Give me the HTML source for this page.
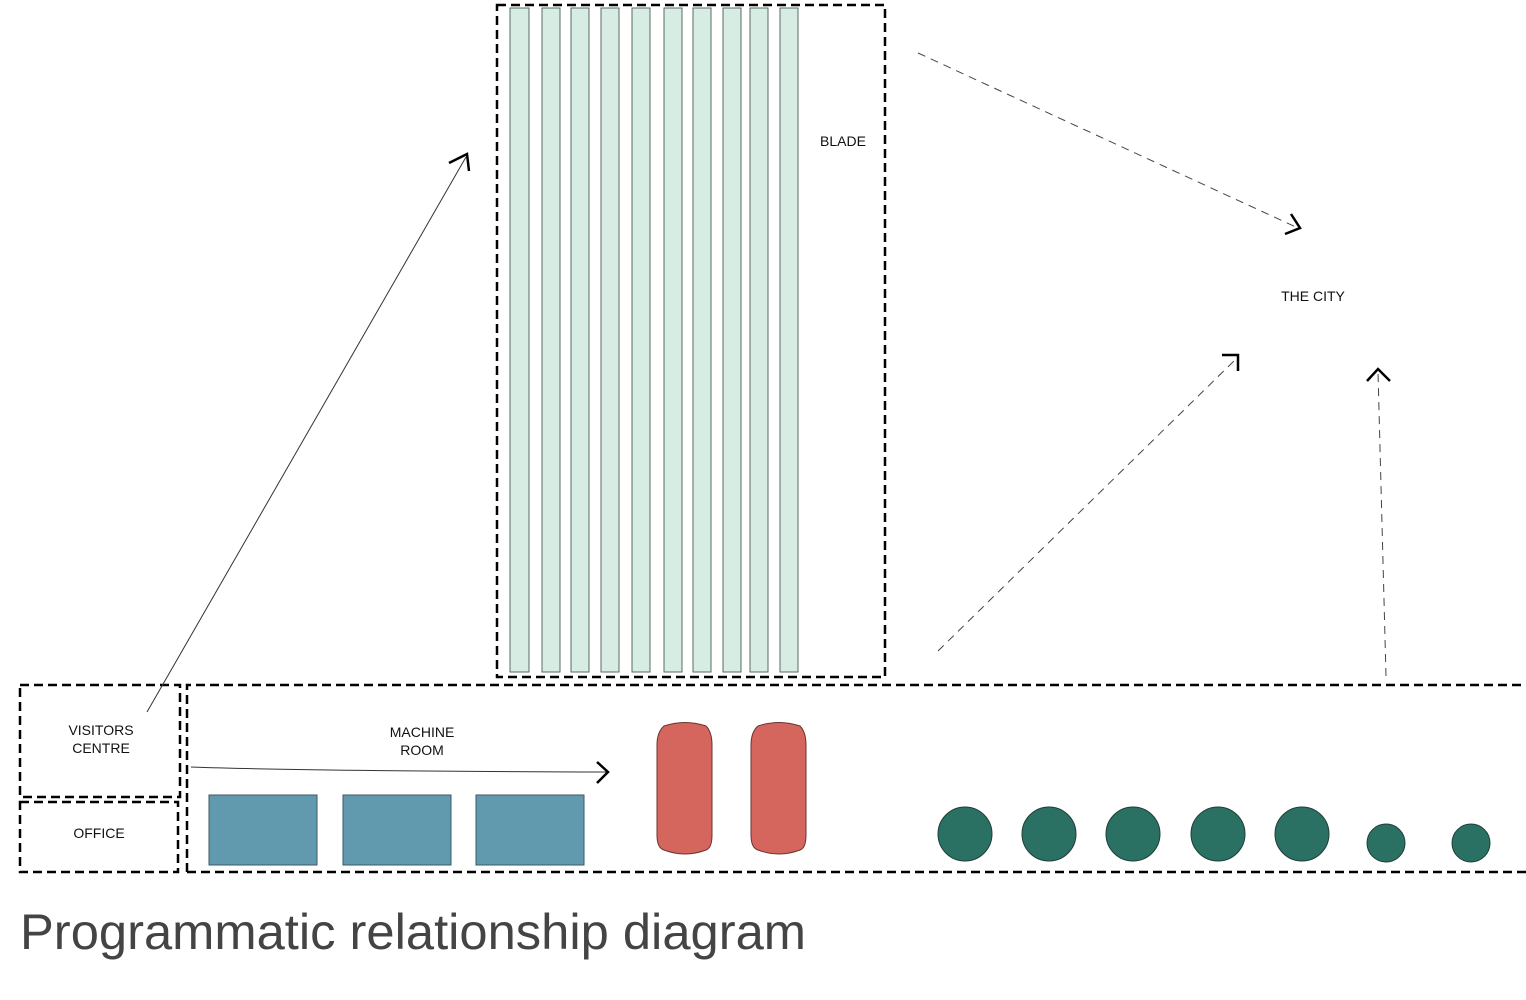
<!DOCTYPE html>
<html><head><meta charset="utf-8"><style>html,body{margin:0;padding:0;background:#fff}svg{display:block}</style></head>
<body>
<svg width="1526" height="1000" viewBox="0 0 1526 1000" xmlns="http://www.w3.org/2000/svg" font-family="Liberation Sans, sans-serif">
<g fill="#d7ede4" stroke="#5a6b63" stroke-width="1">
<rect x="510" y="8" width="19" height="664"/>
<rect x="542" y="8" width="18" height="664"/>
<rect x="571" y="8" width="18" height="664"/>
<rect x="601" y="8" width="18" height="664"/>
<rect x="632" y="8" width="18" height="664"/>
<rect x="664" y="8" width="18" height="664"/>
<rect x="693" y="8" width="18" height="664"/>
<rect x="723" y="8" width="18" height="664"/>
<rect x="750" y="8" width="18" height="664"/>
<rect x="780" y="8" width="18" height="664"/>
</g>
<g fill="none" stroke="#000" stroke-width="2.5" stroke-dasharray="9,5">
<rect x="497" y="5" width="388" height="672"/>
<rect x="20" y="685" width="160" height="112"/>
<rect x="20" y="802" width="158" height="70"/>
<path d="M187 872 V685 H1526 M187 872 H1526"/>
</g>
<g fill="#6199ae" stroke="#3d5a66" stroke-width="1">
<rect x="209" y="795" width="108" height="70"/>
<rect x="343" y="795" width="108" height="70"/>
<rect x="476" y="795" width="108" height="70"/>
</g>
<g fill="#d4665e" stroke="#6b3330" stroke-width="1">
<path d="M664 726 Q685 719 706 726 Q712 732 712 745 V835 Q712 848 706 850 Q685 858 664 850 Q657 848 657 835 V745 Q657 732 664 726Z"/>
<path d="M758 726 Q779 719 800 726 Q806 732 806 745 V835 Q806 848 800 850 Q779 858 758 850 Q751 848 751 835 V745 Q751 732 758 726Z"/>
</g>
<g fill="#2a7063" stroke="#1f3f38" stroke-width="1">
<ellipse cx="965" cy="834" rx="27" ry="27"/>
<ellipse cx="1049" cy="834" rx="27" ry="27"/>
<ellipse cx="1133" cy="834" rx="27" ry="27"/>
<ellipse cx="1218" cy="834" rx="27" ry="27"/>
<ellipse cx="1302" cy="834" rx="27" ry="27"/>
<ellipse cx="1386" cy="843" rx="19" ry="19"/>
<ellipse cx="1471" cy="843" rx="19" ry="19"/>
</g>
<g fill="none" stroke="#333" stroke-width="1">
<path d="M147 712 L466 157"/>
<path d="M191 767 Q300 771 607 772"/>
</g>
<g fill="none" stroke="#444" stroke-width="1" stroke-dasharray="8,6">
<path d="M918 53 L1298 228"/>
<path d="M938 651 L1237 358"/>
<path d="M1386 676 L1378 372"/>
</g>
<g fill="none" stroke="#000" stroke-width="2.5">
<path d="M449 163 L467 154 L469 171"/>
<path d="M597 762 L608 772 L597 783"/>
<path d="M1291 214 L1300 228 L1285 234"/>
<path d="M1222 355 L1238 355 L1238 371"/>
<path d="M1367 381 L1378 369 L1390 381"/>
</g>
<g font-size="14" fill="#111" text-anchor="middle">
<text x="843" y="146">BLADE</text>
<text x="1313" y="301">THE CITY</text>
<text x="101" y="735">VISITORS</text>
<text x="101" y="753">CENTRE</text>
<text x="99" y="838">OFFICE</text>
<text x="422" y="737">MACHINE</text>
<text x="422" y="755">ROOM</text>
</g>
<text x="20" y="949" font-size="50" fill="#444" textLength="786" lengthAdjust="spacingAndGlyphs">Programmatic relationship diagram</text>
</svg>
</body></html>
